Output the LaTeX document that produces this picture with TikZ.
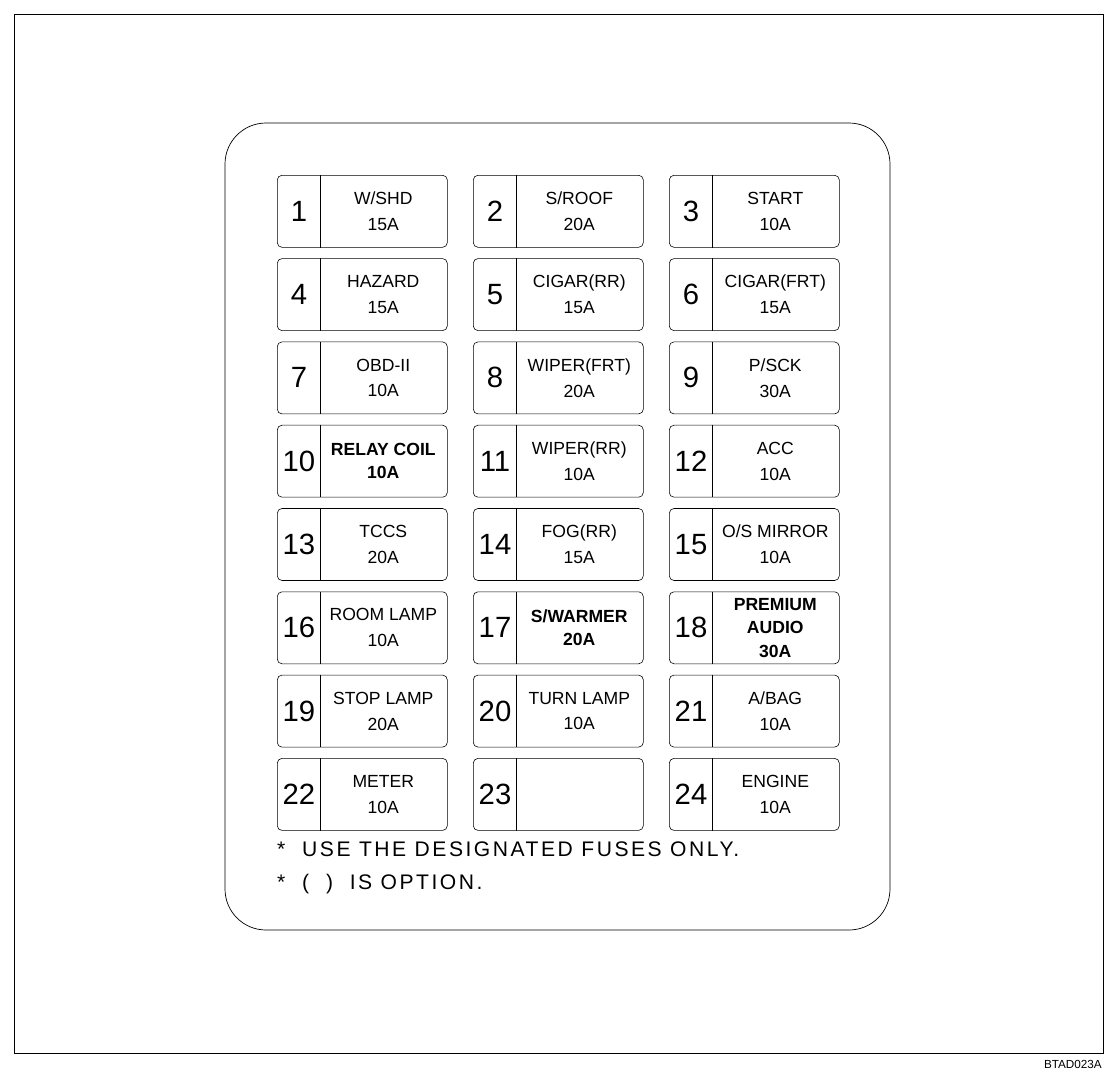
\documentclass[tikz,border=0pt]{standalone}
\usepackage{fontspec}
\setmainfont{Liberation Sans}
\usetikzlibrary{calc}

\tikzset{
	fusebox/.style={draw, line width=0.5pt, rounded corners=4pt,
		minimum width=5.1cm, minimum height=2.16cm, inner sep=0pt},
	fusenum/.style={font=\fontsize{25}{25}\selectfont, inner sep=0pt},
	fuselbl/.style={font=\fontsize{15}{22}\selectfont, align=center, inner sep=0pt},
	boldlbl/.style={font=\bfseries\fontsize{15}{20}\selectfont, align=center, inner sep=0pt},
	notetxt/.style={anchor=west, font=\addfontfeature{LetterSpace=12}\fontsize{18}{18}\selectfont, inner sep=0pt},
}

\begin{document}
\begin{tikzpicture}[x=0.03cm,y=-0.03cm]
\useasboundingbox (0,0) rectangle (1120,1084);
% frame
\draw[line width=0.6pt] (14,14) rectangle (1103,1053);
\node[anchor=north east, font=\fontsize{10}{10}\selectfont, inner sep=0pt] (code) at (1102,1060) {BTAD023A};
\draw[line width=0.6pt, rounded corners=35] (225,123) rectangle (890,930);

% fuses
\foreach \n/\lbl/\sty in {
	1/{W/SHD\\15A}/fuselbl, 2/{S/ROOF\\20A}/fuselbl, 3/{START\\10A}/fuselbl,
	4/{HAZARD\\15A}/fuselbl, 5/{CIGAR(RR)\\15A}/fuselbl, 6/{CIGAR(FRT)\\15A}/fuselbl,
	7/{OBD-II\\10A}/fuselbl, 8/{WIPER(FRT)\\20A}/fuselbl, 9/{P/SCK\\30A}/fuselbl,
	10/{RELAY COIL\\10A}/boldlbl, 11/{WIPER(RR)\\10A}/fuselbl, 12/{ACC\\10A}/fuselbl,
	13/{TCCS\\20A}/fuselbl, 14/{FOG(RR)\\15A}/fuselbl, 15/{O/S MIRROR\\10A}/fuselbl,
	16/{ROOM LAMP\\10A}/fuselbl, 17/{S/WARMER\\20A}/boldlbl, 18/{PREMIUM\\AUDIO\\30A}/boldlbl,
	19/{STOP LAMP\\20A}/fuselbl, 20/{TURN LAMP\\10A}/fuselbl, 21/{A/BAG\\10A}/fuselbl,
	22/{METER\\10A}/fuselbl, 23/{}/fuselbl, 24/{ENGINE\\10A}/fuselbl}{
	\pgfmathsetmacro{\fx}{277+196*mod(\n-1,3)}
	\pgfmathsetmacro{\fy}{175+83.3*int((\n-1)/3)}
	\node[fusebox, anchor=north west] (f\n) at (\fx,\fy) {};
	\draw[line width=0.5pt] ($(f\n.north west)+(43,0)$) -- ($(f\n.south west)+(43,0)$);
	\node[fusenum] (n\n) at ($(f\n.west)+(22,0)$) {\n};
	\node[\sty] (l\n) at ($(f\n.center)+(21,0)$) {\lbl};
}

% notes
\node[notetxt] (note1) at (277,849) {*\ \ USE THE DESIGNATED FUSES ONLY.};
\node[notetxt] (note2) at (277,884) {*\ \ (\ \ )\ \ IS OPTION.};
\end{tikzpicture}
\end{document}
